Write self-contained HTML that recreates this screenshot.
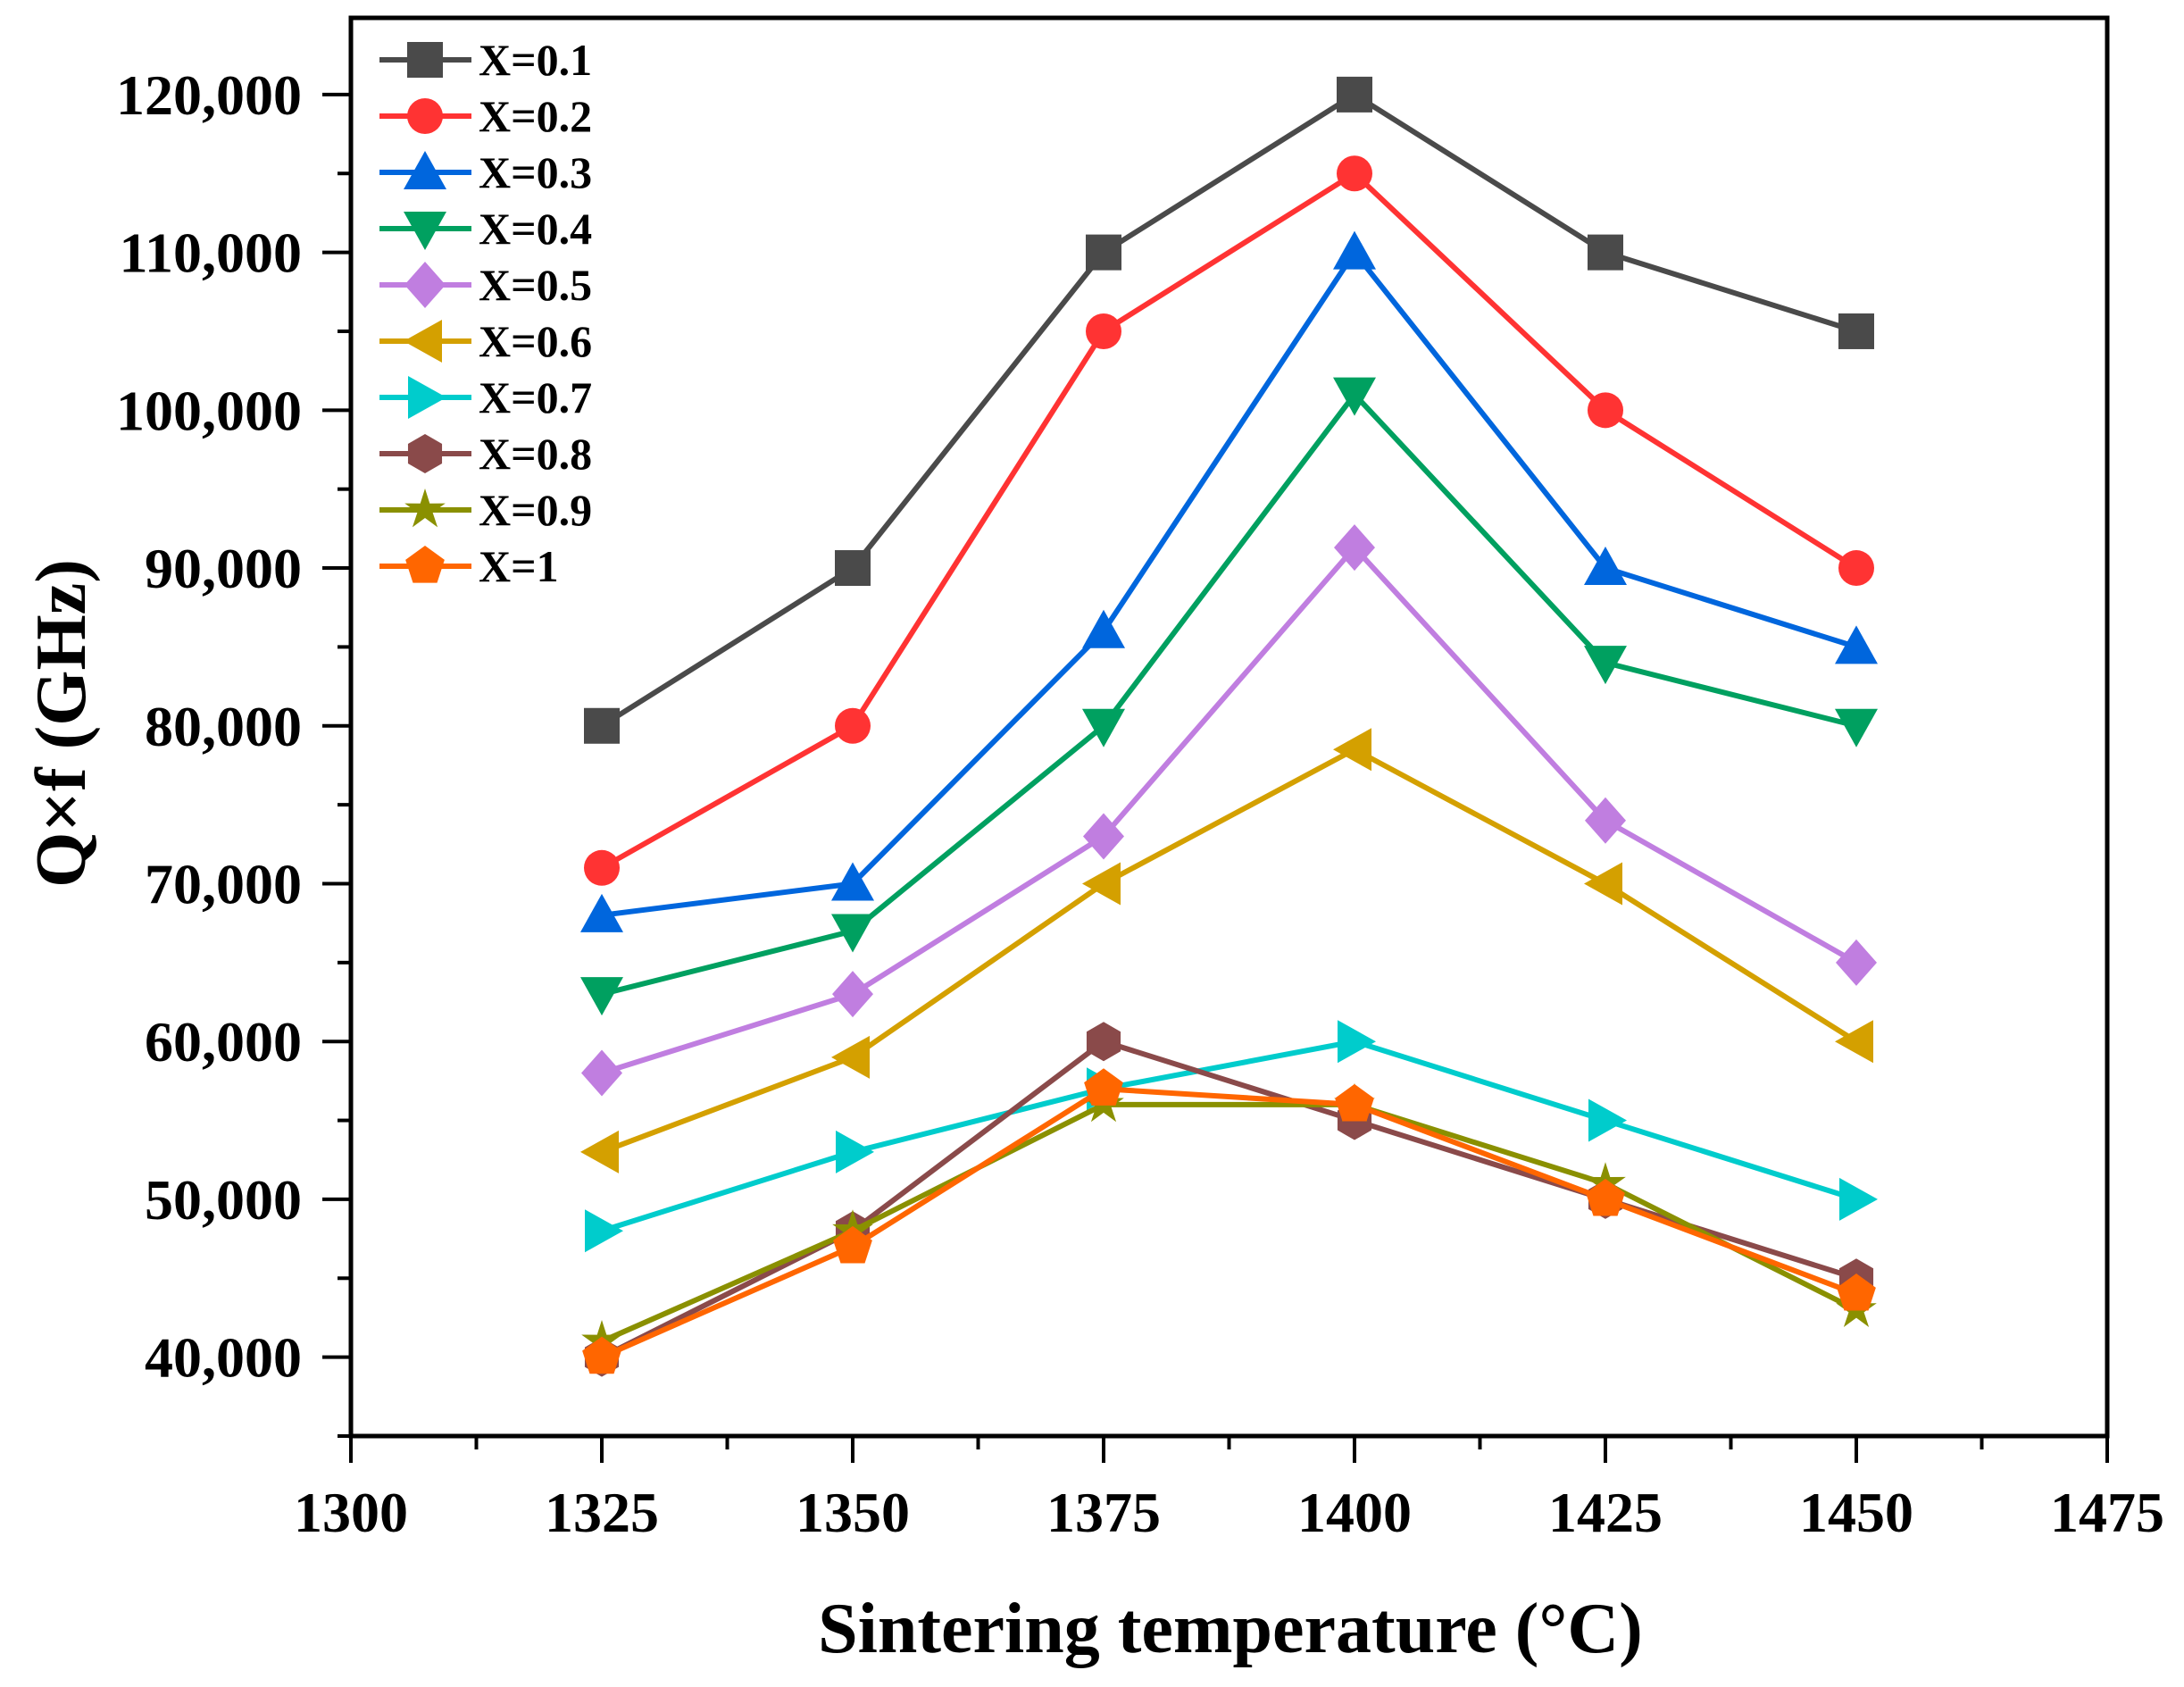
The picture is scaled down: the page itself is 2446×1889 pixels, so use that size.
<!DOCTYPE html>
<html><head><meta charset="utf-8">
<style>
html,body{margin:0;padding:0;background:#fff;}
svg{display:block;}
text{font-family:"Liberation Serif","DejaVu Serif",serif;font-weight:bold;fill:#000;}
</style></head>
<body>
<svg id="chart" width="2446" height="1889" viewBox="0 0 2446 1889" xmlns="http://www.w3.org/2000/svg">
<g id="axes"></g>
<g id="plot"></g>
<g id="legend"></g>
<text x="1378" y="1850" font-size="80" text-anchor="middle">Sintering temperature (°C)</text>
<text transform="translate(95,810) rotate(-90)" font-size="80" text-anchor="middle">Q×f (GHz)</text>
</svg>
<script>
const temps = [1325, 1350, 1375, 1400, 1425, 1450];
const seriesNames = ["X=0.1","X=0.2","X=0.3","X=0.4","X=0.5","X=0.6","X=0.7","X=0.8","X=0.9","X=1"];
const s01 = [80000, 90000, 110000, 120000, 110000, 105000];
const s02 = [71000, 80000, 105000, 115000, 100000, 90000];
const s03 = [68000, 70000, 86000, 110000, 90000, 85000];
const s04 = [63000, 67000, 80000, 101000, 84000, 80000];
const s05 = [58000, 63000, 73000, 91300, 74000, 65000];
const s06 = [53000, 59000, 70000, 78500, 70000, 60000];
const s07 = [48000, 53000, 57000, 60000, 55000, 50000];
const s08 = [40000, 48000, 60000, 55000, 50000, 45000];
const s09 = [41000, 48000, 56000, 56000, 51000, 43000];
const s10 = [40000, 47000, 57000, 56000, 50000, 44000];
const xTicks = [1300, 1325, 1350, 1375, 1400, 1425, 1450, 1475];
const yTicks = [40000, 50000, 60000, 70000, 80000, 90000, 100000, 110000, 120000];
const yTickLabels = ["40,000","50,000","60,000","70,000","80,000","90,000","100,000","110,000","120,000"];

const allSeries = [s01,s02,s03,s04,s05,s06,s07,s08,s09,s10];
const colors = ["#4a4a4a","#ff3333","#0066dd","#00a060","#c07ee0","#d4a000","#00cccc","#8a4a4a","#8a9000","#ff6600"];
const markers = ["square","circle","up","down","diamond","left","right","hexagon","star","pentagon"];

const L=393, R=2360, T=20, B=1608;
const X0=1300, X1=1475, Y0=35000, Y1=124860;
const sx = v => L + (v-X0)/(X1-X0)*(R-L);
const sy = v => B - (v-Y0)/(Y1-Y0)*(B-T);
const NS="http://www.w3.org/2000/svg";
function mk(tag, attrs, parent){const e=document.createElementNS(NS,tag);for(const k in attrs)e.setAttribute(k,attrs[k]);parent.appendChild(e);return e;}

const axes=document.getElementById('axes');
const frame=mk('rect',{x:L,y:T,width:R-L,height:B-T,fill:'none',stroke:'#000','stroke-width':5},axes);



xTicks.forEach((t,i)=>{
  const x=sx(t);
  const tk=mk('line',{x1:x,y1:B,x2:x,y2:B+30,stroke:'#000','stroke-width':4},axes);
  
  
  if(i<xTicks.length-1){
    const xm=sx(t+12.5);
    const mt=mk('line',{x1:xm,y1:B,x2:xm,y2:B+15,stroke:'#000','stroke-width':4},axes);
    
    
  }
  const lb=mk('text',{x:x,y:1715,'font-size':64,'text-anchor':'middle'},axes);
  lb.textContent=String(t);
  
  
});
yTicks.forEach((t,i)=>{
  const y=sy(t);
  const tk=mk('line',{x1:L-32,y1:y,x2:L,y2:y,stroke:'#000','stroke-width':4},axes);
  
  
  const lb=mk('text',{x:L-55,y:y+22,'font-size':64,'text-anchor':'end'},axes);
  lb.textContent=yTickLabels[i];
  
  
});
[35000,45000,55000,65000,75000,85000,95000,105000,115000].forEach(t=>{
  const y=sy(t);
  const mt=mk('line',{x1:L-15,y1:y,x2:L,y2:y,stroke:'#000','stroke-width':4},axes);
  
  
});

function marker(type,cx,cy,color,parent){
  const r=20;
  let el;
  const poly=pts=>mk('polygon',{points:pts.map(p=>(cx+p[0])+','+(cy+p[1])).join(' '),fill:color},parent);
  const reg=(n,rad,rot)=>{const p=[];for(let i=0;i<n;i++){const a=rot+i*2*Math.PI/n;p.push([rad*Math.cos(a),rad*Math.sin(a)]);}return p;};
  switch(type){
    case 'square': el=mk('rect',{x:cx-r,y:cy-r,width:2*r,height:2*r,fill:color},parent);break;
    case 'circle': el=mk('circle',{cx:cx,cy:cy,r:r,fill:color},parent);break;
    case 'up': el=poly([[0,-24],[24,19],[-24,19]]);break;
    case 'down': el=poly([[0,24],[24,-19],[-24,-19]]);break;
    case 'left': el=poly([[-24,0],[19,-24],[19,24]]);break;
    case 'right': el=poly([[24,0],[-19,-24],[-19,24]]);break;
    case 'diamond': el=poly([[0,-26],[23,0],[0,26],[-23,0]]);break;
    case 'hexagon': el=poly(reg(6,22,-Math.PI/2));break;
    case 'pentagon': el=poly(reg(5,23,-Math.PI/2));break;
    case 'star': {const p=[];for(let i=0;i<10;i++){const a=-Math.PI/2+i*Math.PI/5;const rr=i%2?9:24;p.push([rr*Math.cos(a),rr*Math.sin(a)]);}el=poly(p);break;}
  }
  return el;
}

const plot=document.getElementById('plot');
allSeries.forEach((vals,si)=>{
  const g=mk('g',{},plot);
  
  
  const ln=mk('polyline',{points:vals.map((v,i)=>sx(temps[i])+','+sy(v)).join(' '),fill:'none',stroke:colors[si],'stroke-width':6,'stroke-linejoin':'miter'},g);
  
  
  vals.forEach((v,i)=>{
    const m=marker(markers[si],sx(temps[i]),sy(v),colors[si],g);
    
    
  });
});

const legend=document.getElementById('legend');
seriesNames.forEach((nm,si)=>{
  const y=67+si*63;
  const g=mk('g',{},legend);
  
  
  const ln=mk('line',{x1:425,y1:y,x2:528,y2:y,stroke:colors[si],'stroke-width':6},g);
  
  
  const m=marker(markers[si],476,y,colors[si],g);
  
  
  const t=mk('text',{x:536,y:y+17,'font-size':50},g);
  t.textContent=nm;
  
  
});
</script>
</body></html>
